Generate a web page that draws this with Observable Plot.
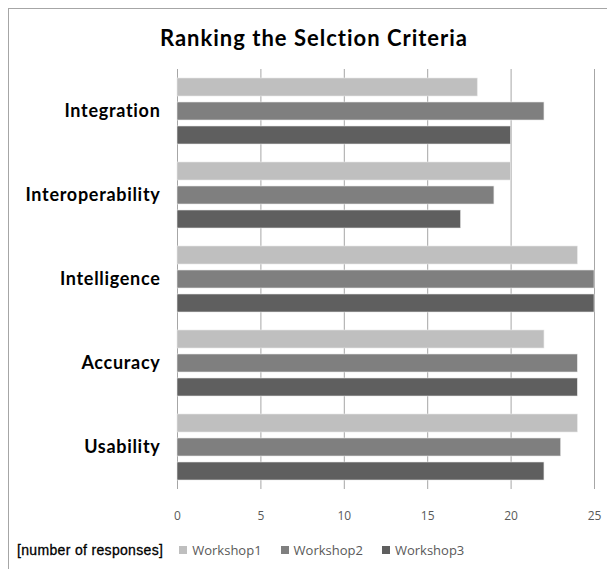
<!DOCTYPE html>
<html>
<head>
<meta charset="utf-8">
<script src="https://cdn.jsdelivr.net/npm/d3@7"></script>
<script src="https://cdn.jsdelivr.net/npm/@observablehq/plot@0.6"></script>
<style>
  html, body { margin: 0; padding: 0; background: #fff; overflow: hidden; }
  #frame { position: absolute; left: 8px; top: 8px; width: 640px; height: 600px; border: 1px solid #a6a6a6; background: #fff; }
  #title { position: absolute; left: 0; top: 17px; width: 610px; text-align: center; font-family: Lato, "Open Sans", sans-serif; font-weight: bold; font-size: 22px; letter-spacing: 1px; line-height: 24px; color: #000; }
  #chart { position: absolute; left: 0; top: 39px; }
  #legend { position: absolute; left: 8px; top: 532px; height: 18px; display: flex; align-items: center; font-family: "Open Sans", sans-serif; font-size: 13px; color: #595959; white-space: nowrap; }
  #legend .lab { font-family: "Liberation Sans", Arial, sans-serif; color: #000; font-size: 14px; letter-spacing: 0.33px; margin-right: 16px; -webkit-text-stroke: 0.3px #000; }
  #legend .item { display: flex; align-items: center; margin-right: 19px; }
  #legend .sw { width: 8px; height: 8px; margin-right: 5px; }
  g[aria-label^="fy-axis"] text { font-family: Lato, "Open Sans", sans-serif; font-size: 18px; letter-spacing: 0.7px; font-weight: bold; fill: #000; }
  g[aria-label^="x-axis"] text { font-family: "Open Sans", sans-serif; font-size: 12px; fill: #595959; }
</style>
</head>
<body>
<div id="frame">
  <div id="title">Ranking the Selction Criteria</div>
  <div id="chart"></div>
  <div id="legend"></div>
</div>
<script>
const categories = ["Integration", "Interoperability", "Intelligence", "Accuracy", "Usability"];
const series = ["Workshop1", "Workshop2", "Workshop3"];
const workshop1 = [18, 20, 24, 22, 24];
const workshop2 = [22, 19, 25, 24, 23];
const workshop3 = [20, 17, 25, 24, 22];
const colors = ["#bfbfbf", "#7f7f7f", "#5f5f5f"];
const xTicks = [0, 5, 10, 15, 20, 25];
const legendLabel = "[number of responses]";

const seriesValues = [workshop1, workshop2, workshop3];
const data = [];
categories.forEach((c, i) => {
  series.forEach((s, j) => data.push({category: c, series: s, value: seriesValues[j][i]}));
});

const chart = Plot.plot({
  width: 598,
  height: 480,
  marginTop: 20,
  marginBottom: 39,
  marginLeft: 168,
  marginRight: 13,
  style: {fontFamily: "'Open Sans', sans-serif", background: "transparent"},
  x: {domain: [0, 25], ticks: xTicks, tickSize: 0, tickPadding: 22, label: null},
  fy: {domain: categories, paddingInner: 0, paddingOuter: 0, axis: "left", tickSize: 0, tickPadding: 17, label: null},
  y: {domain: series, paddingInner: 0.23, paddingOuter: 0.32, axis: null},
  color: {domain: series, range: colors},
  marks: [
    Plot.ruleX(xTicks, {x: d => d, stroke: "#a6a6a6", strokeWidth: 1}),
    Plot.barX(data, {x: "value", y: "series", fy: "category", fill: "series", stroke: "#e6e6e6", strokeWidth: 0.6})
  ]
});
document.getElementById("chart").appendChild(chart);

const legend = document.getElementById("legend");
const lab = document.createElement("span");
lab.className = "lab";
lab.textContent = legendLabel;
legend.appendChild(lab);
series.forEach((s, i) => {
  const it = document.createElement("span");
  it.className = "item";
  const sw = document.createElement("span");
  sw.className = "sw";
  sw.style.background = colors[i];
  it.appendChild(sw);
  const t = document.createElement("span");
  t.textContent = s;
  it.appendChild(t);
  legend.appendChild(it);
});
</script>
</body>
</html>
